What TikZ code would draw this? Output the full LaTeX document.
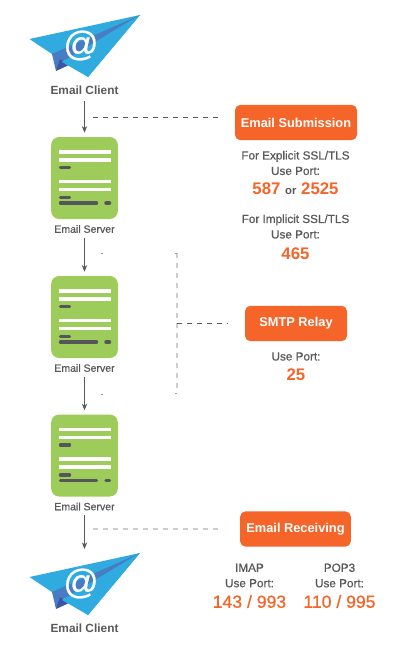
\documentclass[tikz,border=0pt]{standalone}
\usepackage{fontspec}
\setmainfont{Liberation Sans}
\newfontfamily\medfont[FakeBold=0.7]{Liberation Sans}
\usetikzlibrary{arrows.meta}
\definecolor{PlaneBlue}{RGB}{47, 171, 223}
\definecolor{FoldBlue}{RGB}{72, 125, 196}
\definecolor{DarkFold}{RGB}{62, 84, 168}
\definecolor{ServerGreen}{RGB}{157, 204, 90}
\definecolor{BarGrey}{RGB}{84, 86, 90}
\definecolor{TextGrey}{RGB}{88, 89, 91}
\definecolor{DashGrey}{RGB}{205, 205, 205}
\definecolor{PortOrange}{RGB}{245, 101, 42}
\tikzset{
  serverbox/.style={fill=ServerGreen, rounded corners=6, minimum width=50pt, minimum height=61.5pt, inner sep=0pt},
  whitebar/.style={draw=white, line width=2.3pt},
  darkbar/.style={draw=BarGrey, line width=2.6pt, line cap=round},
  clientlabel/.style={text=TextGrey, font=\fontsize{8.9}{10}\selectfont\bfseries, inner sep=0pt},
  serverlabel/.style={text=TextGrey, font=\fontsize{7.9}{9}\selectfont\medfont, inner sep=0pt},
  stepbox/.style={fill=PortOrange, rounded corners=4, text=white, font=\fontsize{9.6}{12}\selectfont\bfseries, inner sep=0pt, minimum height=26.5pt},
  usetext/.style={text=TextGrey, align=center, font=\fontsize{8.8}{11.6}\selectfont\medfont, inner sep=0pt},
  portnum/.style={text=PortOrange, font=\fontsize{12.6}{15}\selectfont\bfseries, inner sep=0pt},
  flowarrow/.style={draw=TextGrey, line width=0.6pt, -{Stealth[length=5pt,width=4pt]}},
  darkdash/.style={draw=TextGrey, line width=0.6pt, dash pattern=on 4pt off 3.5pt},
  greydash/.style={draw=DashGrey, line width=0.8pt, dash pattern=on 4pt off 3.5pt},
  plane/.pic={
    \fill[PlaneBlue] (29.5,39) -- (140,15) -- (88,77) -- (64,58) -- (52,54) -- cycle;
    \fill[FoldBlue] (52,54) -- (140,15) -- (62,62) -- (56,71) -- cycle;
    \fill[DarkFold] (56,71) -- (60,59) -- (68,65.5) -- cycle;
    \fill[PlaneBlue] (62,62) -- (140,15) -- (88,77) -- cycle;
    \node[text=white, font=\fontsize{26}{26}\selectfont\medfont, inner sep=0pt] (-at) at (81,45.5) {@};
  }
}
\begin{document}
\begin{tikzpicture}[x=0.75pt, y=-0.75pt]
    \useasboundingbox (0,0) rectangle (412,654);

    % Email clients
    \pic (planea) at (0,0) {plane};
    \pic (planeb) at (0,538) {plane};
    \node[clientlabel] (clienta) at (84.5,90.5) {Email Client};
    \node[clientlabel] (clientb) at (84.5,628.5) {Email Client};

    % Email servers
    \foreach \n/\y in {srva/0, srvb/139, srvc/277.5} {
      \node[serverbox] (\n) at (84.5,178+\y) {};
      \draw[whitebar] (59,152+\y) -- (111,152+\y);
      \draw[whitebar] (59,160+\y) -- (111,160+\y);
      \draw[whitebar] (59,181.5+\y) -- (111,181.5+\y);
      \draw[whitebar] (59,189.5+\y) -- (111,189.5+\y);
      \draw[darkbar] (60.5,167.5+\y) -- (69.5,167.5+\y);
      \draw[darkbar] (60.5,197.5+\y) -- (69.5,197.5+\y);
      \draw[darkbar] (60.5,203+\y) -- (96.5,203+\y);
      \draw[darkbar] (106,203+\y) -- (109.5,203+\y);
      \node[serverlabel] (\n label) at (84.5,229+\y) {Email Server};
    }

    % Arrows
    \draw[flowarrow, shorten <=4.5pt, shorten >=3pt] (clienta) -- (srva);
    \draw[flowarrow, shorten <=3.5pt, shorten >=3pt] (srvalabel) -- (srvb);
    \draw[flowarrow, shorten <=3.5pt, shorten >=3pt] (srvblabel) -- (srvc);
    \coordinate (planetop) at (84.5,549);
    \draw[flowarrow, shorten <=3.5pt] (srvclabel) -- (planetop);

    % Steps
    \node[stepbox, minimum width=91.5pt] (submit) at (296,122.5) {Email Submission};
    \node[stepbox, minimum width=76.5pt] (relay) at (296,323.5) {SMTP Relay};
    \node[stepbox, minimum width=83pt] (receive) at (295.5,529) {Email Receiving};

    % Dashed links
    \coordinate (submitend) at (220,117.5);
    \coordinate (submitstart) at (93,117.5);
    \draw[darkdash] (submitstart) -- (submitend);
    \coordinate (relaytop) at (177,253);
    \coordinate (relaybot) at (177,393);
    \coordinate (relaymid) at (177,323.5);
    \coordinate (relayend) at (228,323.5);
    \draw[greydash] (relaytop) -- (relaybot);
    \draw[darkdash] (relaymid) -- (relayend);
    \coordinate (receivestart) at (93,529);
    \coordinate (receiveend) at (218,529);
    \draw[greydash] (receivestart) -- (receiveend);

    % Small ticks
    \coordinate (ticka) at (100.5,253);
    \coordinate (tickb) at (103,253);
    \coordinate (tickc) at (100.5,394);
    \coordinate (tickd) at (103,394);
    \coordinate (ticke) at (175,253);
    \coordinate (tickf) at (175,393);
    \draw[draw=TextGrey!60, line width=0.6pt] (ticka) -- (tickb);
    \draw[draw=TextGrey!60, line width=0.6pt] (tickc) -- (tickd);
    \draw[draw=TextGrey!60, line width=0.6pt] (ticke) -- (relaytop);
    \draw[draw=TextGrey!60, line width=0.6pt] (tickf) -- (relaybot);

    % Port numbers
    \node[usetext] (explicit) at (295.5,163) {For Explicit SSL/TLS\\Use Port:};
    \node[portnum] (portsmt) at (295.5,188.5) {587 {\color{TextGrey}\fontsize{8.5}{10}\selectfont or} 2525};
    \node[usetext] (implicit) at (295.5,226.5) {For Implicit SSL/TLS\\Use Port:};
    \node[portnum] (portssl) at (295.5,253.5) {465};
    \node[usetext] (relayuse) at (296,356.5) {Use Port:};
    \node[portnum] (portrelay) at (296,374.5) {25};
    \node[usetext] (imap) at (249.5,575.5) {IMAP\\Use Port:};
    \node[usetext] (pop) at (339.5,575.5) {POP3\\Use Port:};
    \node[portnum, font=\fontsize{13.2}{15}\selectfont\medfont] (portimap) at (249.5,601.5) {143 / 993};
    \node[portnum, font=\fontsize{13.2}{15}\selectfont\medfont] (portpop) at (339.5,601.5) {110 / 995};
\end{tikzpicture}
\end{document}
